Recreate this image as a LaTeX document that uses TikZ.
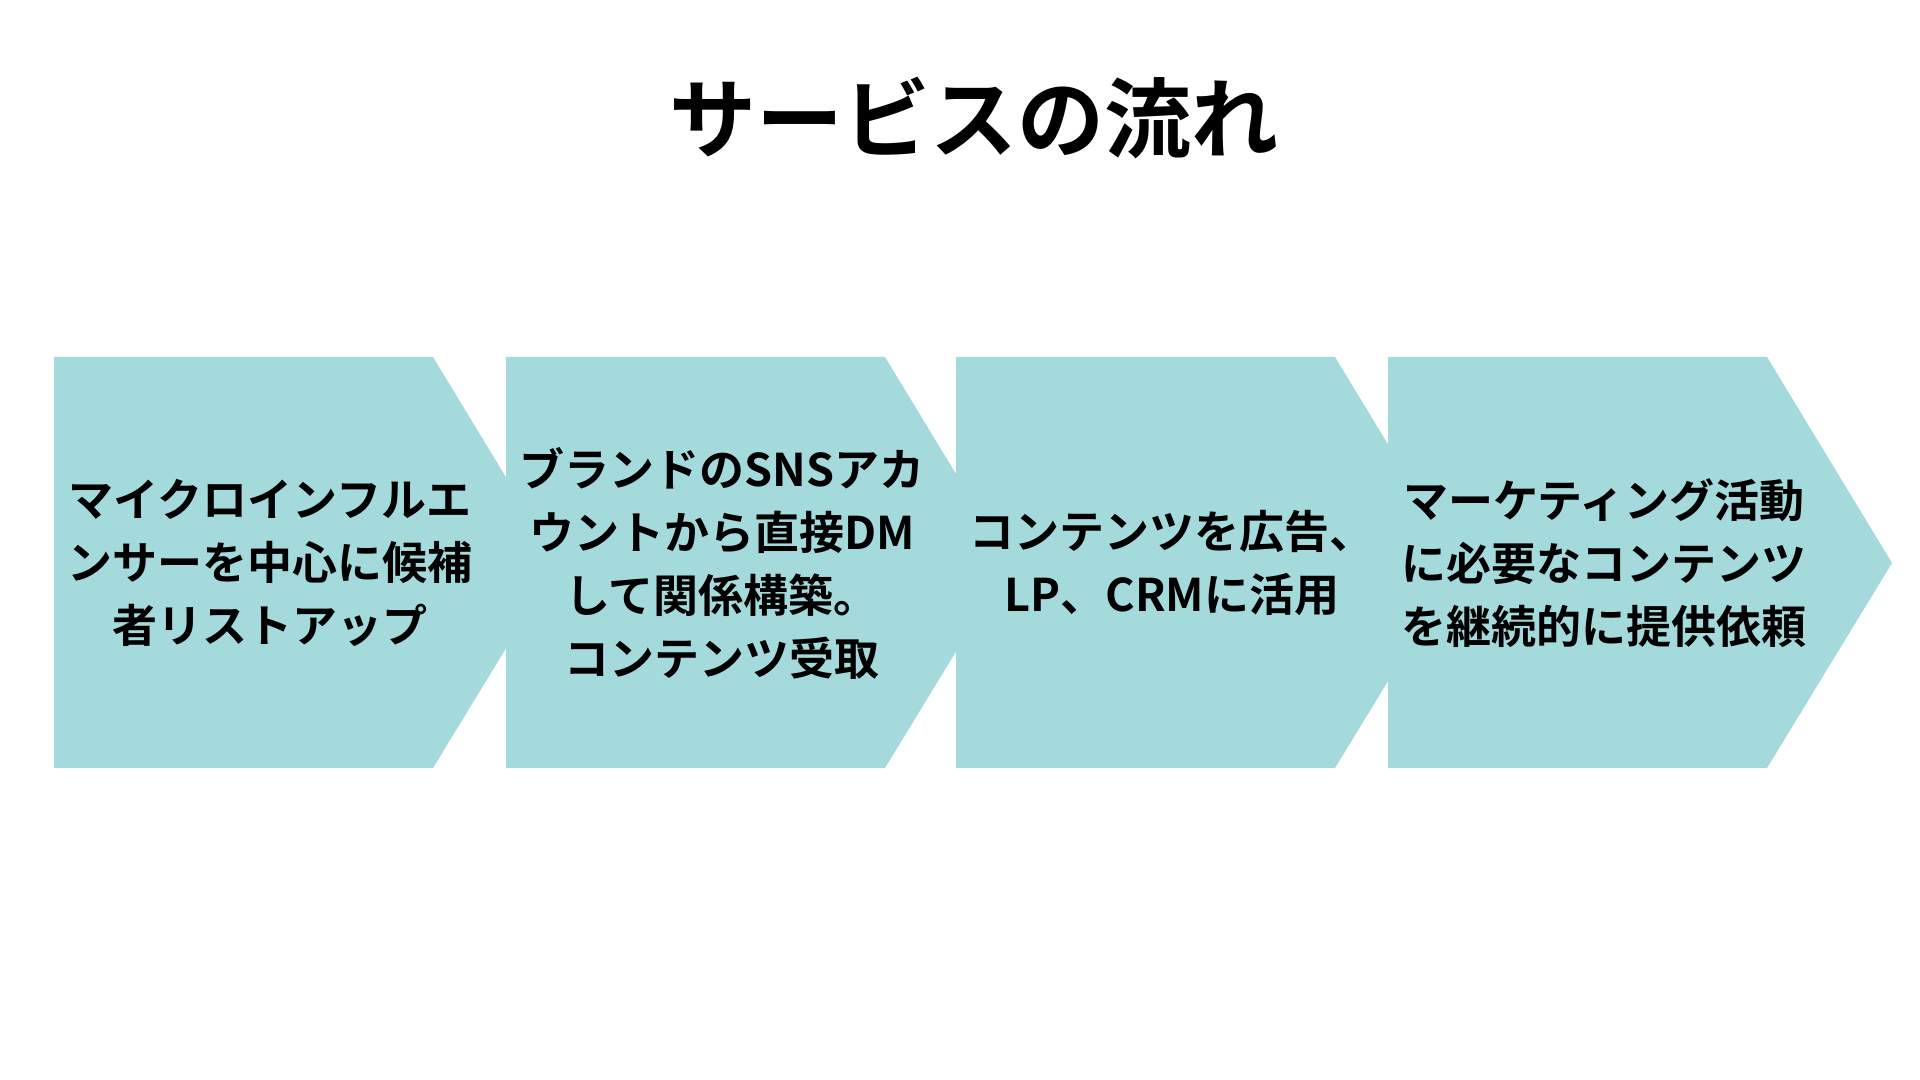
\documentclass[tikz,border=0pt]{standalone}
\usepackage{fontspec}
\setmainfont{Noto Sans CJK JP}[BoldFont={Noto Sans CJK JP Bold}]
\usepackage{tikz}
\usetikzlibrary{positioning}
\definecolor{flowteal}{RGB}{164,218,219}

\begin{document}
\begin{tikzpicture}[
  x=0.5pt, y=-0.5pt,
  blk/.style={fill=flowteal},
  lbl/.style={align=center, font=\bfseries\fontsize{22.5pt}{31.5pt}\selectfont, inner sep=0pt},
  ttl/.style={font=\bfseries\fontsize{43.5pt}{50pt}\selectfont, inner sep=0pt}
]
\useasboundingbox[fill=white] (0,0) rectangle (1920,1080);
\node[ttl] (title) at (974,118) {サービスの流れ};
% arrow blocks, later ones on top
\foreach \bx in {54,506,956,1388}
  \fill[blk] (\bx,357) -- ++(379,0) -- ++(125,206) -- ++(-125,205) -- ++(-379,0) -- cycle;
\node[lbl] (s1) at (270,563) {マイクロインフルエ\\ンサーを中心に候補\\者リストアップ};
\node[lbl] (s2) at (722,563) {ブランドのSNSアカ\\ウントから直接DM\\して関係構築。\\コンテンツ受取};
\node[lbl] (s3) at (1172,563) {コンテンツを広告、\\LP、CRMに活用};
\node[lbl] (s4) at (1604,563) {マーケティング活動\\に必要なコンテンツ\\を継続的に提供依頼};
\end{tikzpicture}
\end{document}
